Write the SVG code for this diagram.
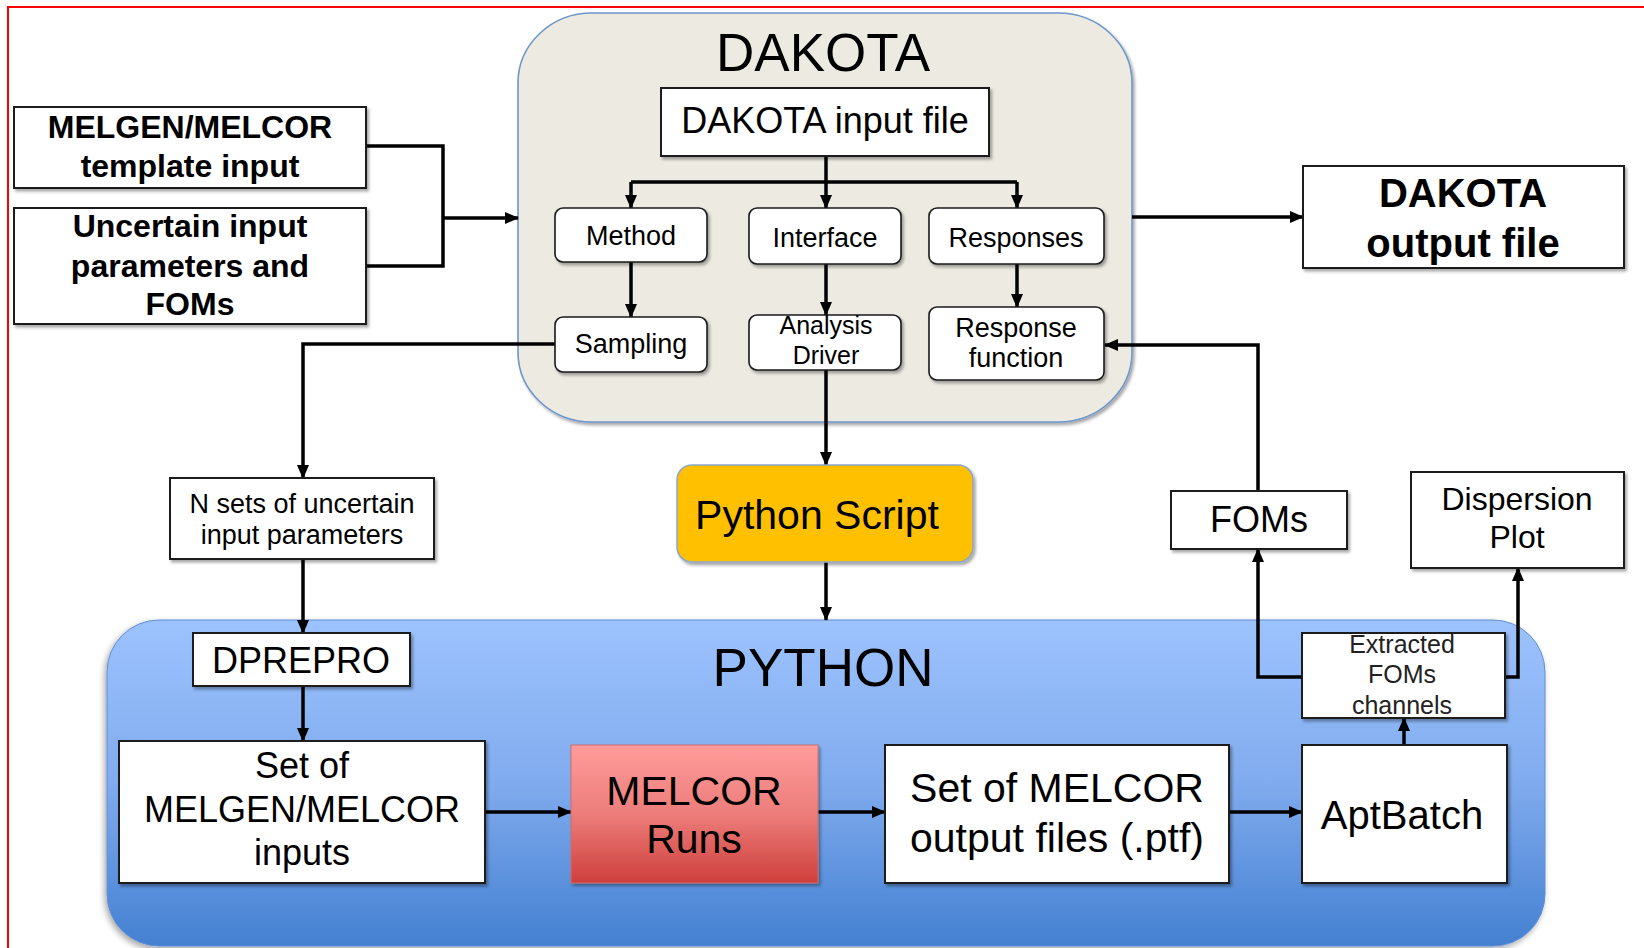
<svg xmlns="http://www.w3.org/2000/svg" width="1644" height="948" viewBox="0 0 1644 948">
<defs>
<style>
text{font-family:"Liberation Sans",Arial,sans-serif;fill:#000;text-anchor:middle}
.b{font-weight:bold}
.box{fill:#fff;stroke:#1a1a1a;stroke-width:2}
.rbox{fill:#fff;stroke:#1a1a1a;stroke-width:1.6}
.con{fill:none;stroke:#000;stroke-width:3.5}
.arr{fill:none;stroke:#000;stroke-width:3.5;marker-end:url(#ah)}
</style>
<marker id="ah" viewBox="0 0 14 12" refX="13" refY="6" markerWidth="14" markerHeight="12" markerUnits="userSpaceOnUse" orient="auto">
<path d="M0,0 L14,6 L0,12 z" fill="#000"/>
</marker>
<filter id="sh" x="-10%" y="-10%" width="130%" height="130%">
<feDropShadow dx="2" dy="2.5" stdDeviation="1.5" flood-color="#000" flood-opacity="0.35"/>
</filter>
<filter id="shc" x="-5%" y="-5%" width="110%" height="115%">
<feDropShadow dx="-2" dy="3" stdDeviation="3" flood-color="#000" flood-opacity="0.35"/>
</filter>
<linearGradient id="gpy" x1="0" y1="0" x2="0" y2="1">
<stop offset="0" stop-color="#9DC3FE"/>
<stop offset="0.5" stop-color="#80ABEE"/>
<stop offset="1" stop-color="#4480D1"/>
</linearGradient>
<linearGradient id="gmel" x1="0" y1="0" x2="0" y2="1">
<stop offset="0" stop-color="#FF9C9C"/>
<stop offset="0.5" stop-color="#EC7D7A"/>
<stop offset="1" stop-color="#CF3F3C"/>
</linearGradient>
</defs>

<rect id="frame" x="8" y="7" width="1700" height="1000" fill="none" stroke="#FF0000" stroke-width="2"/>

<g id="dakota-container">
<rect x="518" y="13" width="614" height="409" rx="74" ry="70" fill="#ECEAE1" stroke="#6E97CB" stroke-width="1.6" filter="url(#sh)"/>
<text x="823" y="71" font-size="53">DAKOTA</text>
</g>

<g id="python-container">
<rect x="107" y="620" width="1438" height="326" rx="52" ry="52" fill="url(#gpy)" stroke="#5E8FD6" stroke-width="1" filter="url(#shc)"/>
<text x="823" y="686" font-size="53">PYTHON</text>
</g>

<g id="connectors">
<path class="con" d="M366,146 H443 V266 H366"/>
<path class="arr" d="M443,218 H518"/>
<path class="arr" d="M1132,217 H1303"/>
<path class="con" d="M631,182 H1017"/>
<path class="arr" d="M826,156 V208"/>
<path class="arr" d="M631,182 V208"/>
<path class="arr" d="M1017,182 V208"/>
<path class="arr" d="M631,262 V317"/>
<path class="arr" d="M826,264 V315"/>
<path class="arr" d="M1017,264 V307"/>
<path class="arr" d="M555,344 H303 V478"/>
<path class="arr" d="M826,370 V465"/>
<path class="arr" d="M826,562 V620"/>
<path class="arr" d="M303,559 V633"/>
<path class="arr" d="M303,686 V741"/>
<path class="arr" d="M485,812 H571"/>
<path class="arr" d="M818,812 H885"/>
<path class="arr" d="M1229,812 H1302"/>
<path class="arr" d="M1404,745 V718"/>
<path class="arr" d="M1302,677 H1258 V549"/>
<path class="arr" d="M1505,677 H1518 V568"/>
<path class="arr" d="M1258,491 V345 H1105"/>
</g>

<g id="melgen-template">
<rect class="box" x="14" y="107" width="352" height="81" filter="url(#sh)"/>
<text class="b" x="190" y="138" font-size="32">MELGEN/MELCOR</text>
<text class="b" x="190" y="177" font-size="32">template input</text>
</g>

<g id="uncertain-input">
<rect class="box" x="14" y="208" width="352" height="116" filter="url(#sh)"/>
<text class="b" x="190" y="237" font-size="32">Uncertain input</text>
<text class="b" x="190" y="277" font-size="32">parameters and</text>
<text class="b" x="190" y="315" font-size="32">FOMs</text>
</g>

<g id="dakota-input">
<rect class="box" x="661" y="88" width="328" height="68" filter="url(#sh)"/>
<text x="825" y="133" font-size="36">DAKOTA input file</text>
</g>

<g id="method">
<rect class="rbox" x="555" y="208" width="152" height="54" rx="8" filter="url(#sh)"/>
<text x="631" y="245" font-size="27">Method</text>
</g>

<g id="interface">
<rect class="rbox" x="749" y="208" width="152" height="56" rx="8" filter="url(#sh)"/>
<text x="825" y="247" font-size="27">Interface</text>
</g>

<g id="responses">
<rect class="rbox" x="929" y="208" width="175" height="56" rx="8" filter="url(#sh)"/>
<text x="1016" y="247" font-size="27">Responses</text>
</g>

<g id="sampling">
<rect class="rbox" x="555" y="317" width="152" height="55" rx="8" filter="url(#sh)"/>
<text x="631" y="353" font-size="27">Sampling</text>
</g>

<g id="analysis-driver">
<rect class="rbox" x="749" y="315" width="152" height="55" rx="8" filter="url(#sh)"/>
<text x="826" y="334" font-size="25">Analysis</text>
<text x="826" y="364" font-size="25">Driver</text>
</g>

<g id="response-function">
<rect class="rbox" x="929" y="307" width="175" height="73" rx="8" filter="url(#sh)"/>
<text x="1016" y="337" font-size="27">Response</text>
<text x="1016" y="367" font-size="27">function</text>
</g>

<g id="dakota-output">
<rect class="box" x="1303" y="166" width="321" height="102" filter="url(#sh)"/>
<text class="b" x="1463" y="207" font-size="40">DAKOTA</text>
<text class="b" x="1463" y="257" font-size="40">output file</text>
</g>

<g id="n-sets">
<rect class="box" x="170" y="478" width="264" height="81" filter="url(#sh)"/>
<text x="302" y="513" font-size="27">N sets of uncertain</text>
<text x="302" y="544" font-size="27">input parameters</text>
</g>

<g id="python-script">
<rect x="677" y="465" width="296" height="97" rx="15" fill="#FFC000" stroke="#8BA6CC" stroke-width="1.5" filter="url(#sh)"/>
<text x="817" y="529" font-size="41">Python Script</text>
</g>

<g id="foms">
<rect class="box" x="1171" y="491" width="176" height="58" filter="url(#sh)"/>
<text x="1259" y="532" font-size="36">FOMs</text>
</g>

<g id="dispersion-plot">
<rect class="box" x="1411" y="472" width="213" height="96" filter="url(#sh)"/>
<text x="1517" y="510" font-size="32">Dispersion</text>
<text x="1517" y="548" font-size="32">Plot</text>
</g>

<g id="dprepro">
<rect class="box" x="193" y="633" width="217" height="53" filter="url(#sh)"/>
<text x="301" y="673" font-size="36">DPREPRO</text>
</g>

<g id="set-of-inputs">
<rect class="box" x="119" y="741" width="366" height="142" filter="url(#sh)"/>
<text x="302" y="778" font-size="36">Set of</text>
<text x="302" y="822" font-size="36">MELGEN/MELCOR</text>
<text x="302" y="865" font-size="36">inputs</text>
</g>

<g id="melcor-runs">
<rect x="571" y="745" width="247" height="138" fill="url(#gmel)" stroke="#C9706E" stroke-width="1" filter="url(#sh)"/>
<text x="694" y="805" font-size="41">MELCOR</text>
<text x="694" y="853" font-size="41">Runs</text>
</g>

<g id="melcor-output">
<rect class="box" x="885" y="745" width="344" height="138" filter="url(#sh)"/>
<text x="1057" y="802" font-size="41">Set of MELCOR</text>
<text x="1057" y="852" font-size="41">output files (.ptf)</text>
</g>

<g id="extracted-foms">
<rect class="box" x="1302" y="633" width="203" height="85" filter="url(#sh)"/>
<text x="1402" y="653" font-size="25" style="fill:#222">Extracted</text>
<text x="1402" y="683" font-size="25" style="fill:#222">FOMs</text>
<text x="1402" y="714" font-size="25" style="fill:#222">channels</text>
</g>

<g id="aptbatch">
<rect class="box" x="1302" y="745" width="205" height="138" filter="url(#sh)"/>
<text x="1402" y="829" font-size="40">AptBatch</text>
</g>
</svg>
